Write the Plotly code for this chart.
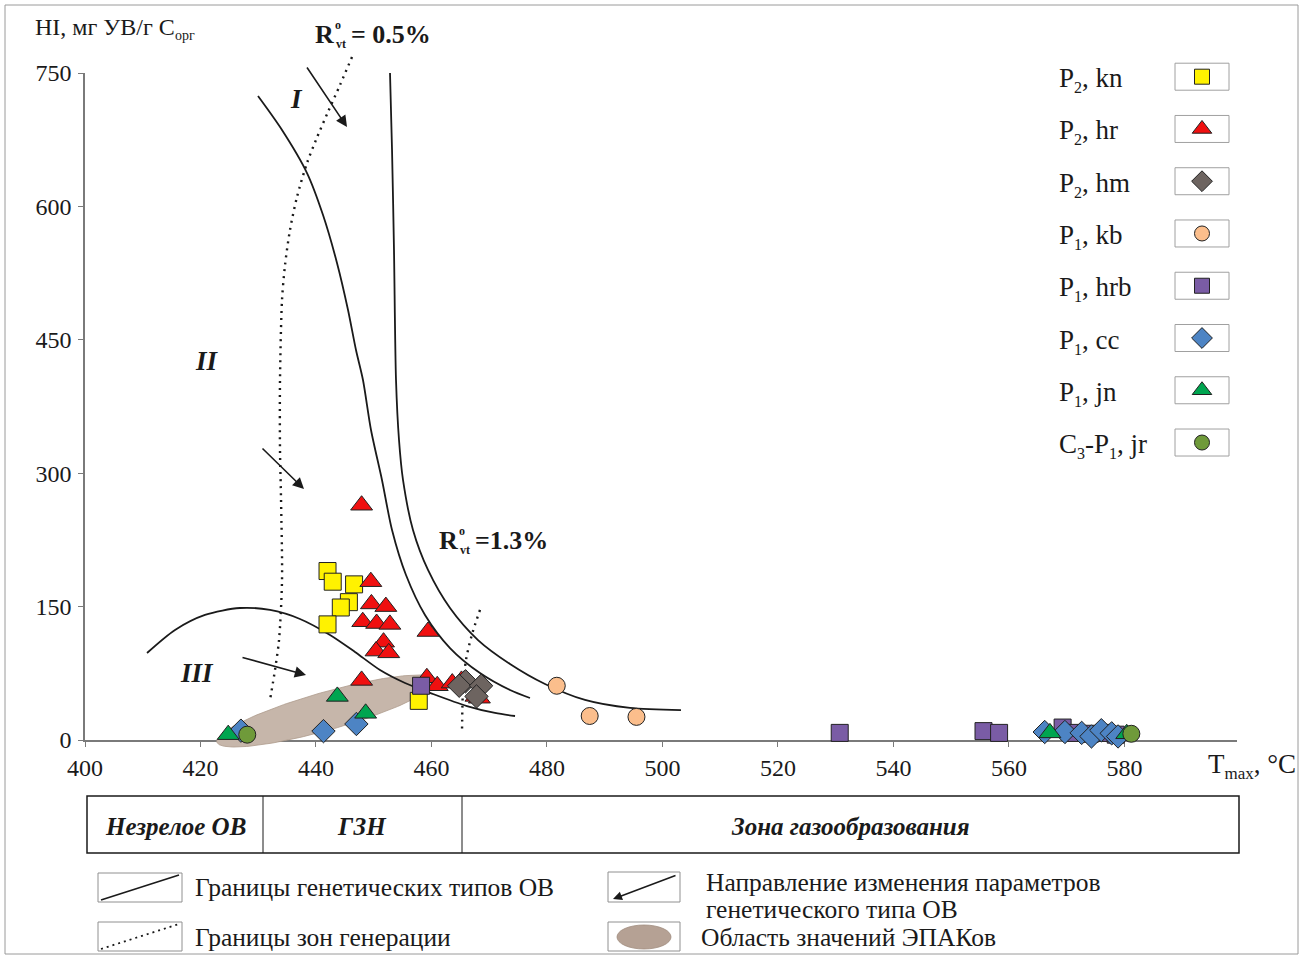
import numpy as np
import plotly.graph_objects as go

W, H = 1309, 957
FONT = "Liberation Serif"
INK = "#1a1a1a"

# ---------------- samples: Tmax (°C) and HI (mg HC / g TOC) ----------------
kn_T = [442.0, 442.9, 446.6, 445.7, 444.3, 442.0, 457.8]
kn_HI = [190, 178, 175, 155, 149, 130, 44]

hr_T = [447.9, 449.5, 449.6, 452.1, 448.1, 450.5, 452.8, 451.7, 450.4, 452.6,
        459.4, 447.9, 459.2, 461.0, 463.6, 465.2, 467.7, 468.3]
hr_HI = [264, 178, 153, 150, 133, 131, 130, 110, 100, 98,
         122, 67, 70, 61, 64, 67, 49, 47]

hm_T = [465.9, 464.8, 468.6, 467.8]
hm_HI = [66, 61, 61, 49]

kb_T = [481.7, 487.4, 495.5]
kb_HI = [61, 27, 26]

hrb_T = [458.2, 530.7, 555.6, 558.3, 569.3, 571.5, 574.0, 576.5, 578.5]
hrb_HI = [61, 8, 10, 8, 14, 8, 7, 8, 6]

cc_T = [427.0, 441.3, 447.0, 566.2, 569.7, 572.6, 574.3, 576.0, 577.8, 578.9]
cc_HI = [10.5, 10, 18, 9, 9, 8, 4, 11, 7.5, 4]

jn_T = [424.8, 443.7, 448.6, 567.1, 580.4]
jn_HI = [6, 49, 30, 8, 7]

jr_T = [428.1, 581.2]
jr_HI = [6, 7]


def sub(s):
    return "<sub><span style='font-size:16px'>" + s + "</span></sub>"


series = [
    ("P" + sub("2") + ", kn", kn_T, kn_HI, "square", "#fff200", 17),
    ("P" + sub("2") + ", hr", hr_T, hr_HI, "triangle-up", "#f01010", 19),
    ("P" + sub("2") + ", hm", hm_T, hm_HI, "diamond", "#6d6460", 18),
    ("P" + sub("1") + ", kb", kb_T, kb_HI, "circle", "#fbbe8c", 17),
    ("P" + sub("1") + ", hrb", hrb_T, hrb_HI, "square", "#7a5ca5", 17),
    ("P" + sub("1") + ", cc", cc_T, cc_HI, "diamond", "#4d84c4", 18),
    ("P" + sub("1") + ", jn", jn_T, jn_HI, "triangle-up", "#00a550", 19),
    ("C" + sub("3") + "-P" + sub("1") + ", jr", jr_T, jr_HI, "circle", "#6f9a3a", 17),
]

# ---------------- genetic-type boundaries (Tmax, HI) ----------------
type_I_T = [429.96, 434.12, 438.45, 441.22, 443.64, 445.55, 446.93, 448.14, 449.53,
            451.43, 453.17, 455.59, 458.88, 463.21, 468.40, 473.60, 477.06]
type_I_HI = [724.1, 685.9, 637.5, 590.3, 536.4, 483.5, 438.5, 404.8, 348.6,
             292.4, 236.1, 185.5, 140.6, 103.4, 75.3, 56.2, 47.2]

type_II_T = [452.82, 453.17, 453.51, 453.86, 454.38, 455.07, 456.80, 459.40, 463.21,
             468.06, 473.60, 479.66, 486.59, 494.38, 503.21]
type_II_HI = [750.0, 663.4, 551.0, 404.8, 337.3, 292.4, 236.1, 191.2, 148.4,
              112.4, 85.5, 63.0, 45.0, 36.0, 33.7]

type_III_T = [410.74, 415.59, 420.78, 426.84, 432.04, 437.23, 442.43, 446.76, 451.09,
              455.42, 460.27, 466.15, 471.00, 474.47]
type_III_HI = [97.8, 123.7, 140.6, 148.4, 146.2, 136.1, 118.1, 99.0, 78.7,
               64.1, 51.7, 38.2, 30.4, 27.0]

# ---------------- generation-zone boundaries (dotted) ----------------
ro05_T = [446.24, 444.16, 442.08, 440.0, 438.45, 436.71, 435.50, 434.64, 434.12,
          433.77, 433.77, 433.95, 434.12, 433.60, 432.90, 432.04]
ro05_HI = [768.0, 736.5, 706.2, 674.7, 648.8, 610.6, 573.5, 534.1, 494.7,
           404.8, 326.1, 269.9, 179.9, 112.4, 78.7, 45.0]

ro13_T = [468.40, 466.99, 465.98, 465.46, 465.29]
ro13_HI = [146.2, 118.1, 90.0, 56.2, 9.0]

# EPAK field: centre and two semi-axis vectors (°C, HI)
epak_center = (441.82, 32.6)
epak_ax1 = (18.99, 34.9)
epak_ax2 = (-0.895, 20.55)

# ---------------- axes ----------------
x_ticks = list(range(400, 581, 20))
y_ticks = list(range(0, 751, 150))
X_RANGE = (400, 599.5)
Y_RANGE = (0, 750)
PLOT_L, PLOT_R = 85, 1237      # px of x-range ends
PLOT_B, PLOT_T = 740, 73       # px of y-range ends

kx = (X_RANGE[1] - X_RANGE[0]) / (PLOT_R - PLOT_L)
ky = (Y_RANGE[1] - Y_RANGE[0]) / (PLOT_B - PLOT_T)
x2_range = [X_RANGE[0] - PLOT_L * kx, X_RANGE[0] + (W - PLOT_L) * kx]
y2_range = [Y_RANGE[0] - (H - PLOT_B) * ky, Y_RANGE[1] + PLOT_T * ky]

fig = go.Figure()

# anchor trace for the visible axes
fig.add_trace(go.Scatter(x=[None], y=[None], xaxis="x", yaxis="y",
                         showlegend=False, hoverinfo="skip"))

# EPAK field
t = np.linspace(0, 2 * np.pi, 200)
ex = epak_center[0] + np.cos(t) * epak_ax1[0] + np.sin(t) * epak_ax2[0]
ey = epak_center[1] + np.cos(t) * epak_ax1[1] + np.sin(t) * epak_ax2[1]
fig.add_trace(go.Scatter(x=ex, y=ey, xaxis="x2", yaxis="y2", mode="lines",
                         fill="toself", fillcolor="#c6b6aa",
                         line=dict(color="#ad9a8c", width=0.8),
                         showlegend=False, hoverinfo="skip"))

for tx, ty in [(type_I_T, type_I_HI), (type_II_T, type_II_HI), (type_III_T, type_III_HI)]:
    fig.add_trace(go.Scatter(x=tx, y=ty, xaxis="x2", yaxis="y2", mode="lines",
                             line=dict(color=INK, width=1.8, shape="spline", smoothing=0.8),
                             showlegend=False, hoverinfo="skip"))

for tx, ty in [(ro05_T, ro05_HI), (ro13_T, ro13_HI)]:
    fig.add_trace(go.Scatter(x=tx, y=ty, xaxis="x2", yaxis="y2", mode="lines",
                             line=dict(color=INK, width=2.4, dash="2px,5px",
                                       shape="spline", smoothing=0.8),
                             showlegend=False, hoverinfo="skip"))

for name, tx, ty, sym, col, size in series:
    fig.add_trace(go.Scatter(x=tx, y=ty, xaxis="x2", yaxis="y2", mode="markers",
                             name=name,
                             marker=dict(symbol=sym, color=col, size=size,
                                         line=dict(color="#222222", width=1)),
                             showlegend=False, cliponaxis=False))

# ---------------- legend (pixel layout on x3/y3) ----------------
LEG_Y0, LEG_DY = 76.7, 52.26
for i, (name, _, _, sym, col, size) in enumerate(series):
    cy = LEG_Y0 + i * LEG_DY
    fig.add_shape(type="rect", xref="x3", yref="y3", x0=1175, x1=1229,
                  y0=cy - 13.5, y1=cy + 13.5, line=dict(color="#a0a0a0", width=1),
                  fillcolor="white", layer="below")
    fig.add_trace(go.Scatter(x=[1202], y=[cy], xaxis="x3", yaxis="y3", mode="markers",
                             marker=dict(symbol=sym, color=col, size=size - 2,
                                         line=dict(color="#222222", width=1)),
                             showlegend=False, hoverinfo="skip"))
    fig.add_annotation(xref="x3", yref="y3", x=1057, y=cy + 3, text=name,
                       showarrow=False, xanchor="left", yanchor="middle",
                       font=dict(family=FONT, size=27, color=INK))

# ---------------- labels ----------------
def label(x, y, text, size, anchor="left"):
    fig.add_annotation(xref="x3", yref="y3", x=x, y=y, text=text, showarrow=False,
                       xanchor=anchor, yanchor="middle",
                       font=dict(family=FONT, size=size, color=INK))

label(33, 28, "HI, мг УВ/г С<sub><span style='font-size:14px'>орг</span></sub>", 24)
label(1206, 766, "T<sub><span style='font-size:17px'>max</span></sub>, °C", 27)

# region numerals
label(296, 99, "<b><i>I</i></b>", 27, "center")
label(207, 361, "<b><i>II</i></b>", 27, "center")
label(197, 673, "<b><i>III</i></b>", 27, "center")

# vitrinite reflectance labels
def ro_label(x, y, value):
    label(x, y, "<b>R</b>", 26)
    label(x + 20, y - 9, "<b>o</b>", 12)
    label(x + 21, y + 10, "<b>vt</b>", 12)
    label(x + 36, y, "<b>" + value + "</b>", 26)

ro_label(313, 34, "= 0.5%")
ro_label(437, 540, "=1.3%")

# direction arrows
for (x0, y0, x1, y1) in [(306, 66, 347, 127), (261, 447, 304, 489), (241, 657, 306, 675)]:
    fig.add_annotation(xref="x3", yref="y3", axref="x3", ayref="y3",
                       x=x1, y=y1, ax=x0, ay=y0, text="", showarrow=True,
                       arrowhead=2, arrowsize=1.4, arrowwidth=1.6, arrowcolor=INK)

# ---------------- maturity zones table ----------------
fig.add_shape(type="rect", xref="x3", yref="y3", x0=87, x1=1239, y0=796, y1=853,
              line=dict(color=INK, width=1.5))
for xd in (263, 462):
    fig.add_shape(type="line", xref="x3", yref="y3", x0=xd, x1=xd, y0=796, y1=853,
                  line=dict(color=INK, width=1))
label(175, 826, "<b><i>Незрелое ОВ</i></b>", 25, "center")
label(362, 826, "<b><i>ГЗН</i></b>", 25, "center")
label(850, 826, "<b><i>Зона газообразования</i></b>", 25, "center")

# ---------------- symbol key ----------------
box = dict(color="#909090", width=1)
fig.add_shape(type="rect", xref="x3", yref="y3", x0=98, x1=182, y0=873, y1=902, line=box)
fig.add_shape(type="line", xref="x3", yref="y3", x0=101, x1=179, y0=900, y1=875,
              line=dict(color=INK, width=1.6))
fig.add_shape(type="rect", xref="x3", yref="y3", x0=98, x1=182, y0=922, y1=951, line=box)
fig.add_shape(type="line", xref="x3", yref="y3", x0=101, x1=179, y0=949, y1=924,
              line=dict(color=INK, width=1.8, dash="2px,4px"))
fig.add_shape(type="rect", xref="x3", yref="y3", x0=608, x1=680, y0=872, y1=902, line=box)
fig.add_annotation(xref="x3", yref="y3", axref="x3", ayref="y3",
                   x=613, y=899, ax=677, ay=875, text="", showarrow=True,
                   arrowhead=2, arrowsize=1.2, arrowwidth=1.5, arrowcolor=INK)
fig.add_shape(type="rect", xref="x3", yref="y3", x0=608, x1=680, y0=922, y1=951, line=box)
fig.add_shape(type="circle", xref="x3", yref="y3", x0=617, x1=671, y0=925, y1=949,
              fillcolor="#b5a194", line=dict(color="#a08c7e", width=0.8))

label(193, 887, "Границы генетических типов ОВ", 25.5)
label(193, 937, "Границы зон генерации", 25.5)
label(704, 882, "Направление изменения параметров", 25.5)
label(704, 909, "генетического типа ОВ", 25.5)
label(699, 937, "Область значений ЭПАКов", 25.5)

# outer frame
fig.add_shape(type="rect", xref="x3", yref="y3", x0=5, x1=1298, y0=5, y1=954,
              line=dict(color="#9a9a9a", width=1))

axis_common = dict(showgrid=False, zeroline=False, showline=True, linecolor="#7a7a7a",
                   linewidth=1.5, ticks="outside", ticklen=5, tickcolor="#7a7a7a",
                   tickwidth=1.3, automargin=False,
                   tickfont=dict(family=FONT, size=24, color=INK))
hidden = dict(visible=False, showgrid=False, zeroline=False, fixedrange=True,
              automargin=False)

fig.update_layout(
    width=W, height=H,
    autosize=False,
    margin=dict(l=0, r=0, t=0, b=0, pad=0, autoexpand=False),
    paper_bgcolor="white", plot_bgcolor="rgba(0,0,0,0)",
    showlegend=False,
    xaxis=dict(domain=[PLOT_L / W, PLOT_R / W], range=list(X_RANGE), tickvals=x_ticks,
               anchor="y", ticklabelstandoff=0, **axis_common),
    yaxis=dict(domain=[1 - PLOT_B / H, 1 - PLOT_T / H], range=list(Y_RANGE),
               tickvals=y_ticks, anchor="x", ticklabelstandoff=2, **axis_common),
    xaxis2=dict(domain=[0, 1], range=x2_range, anchor="y2", **hidden),
    yaxis2=dict(domain=[0, 1], range=y2_range, anchor="x2", **hidden),
    xaxis3=dict(domain=[0, 1], range=[0, W], anchor="y3", **hidden),
    yaxis3=dict(domain=[0, 1], range=[H, 0], anchor="x3", **hidden),
)

fig.write_html("out.html")
